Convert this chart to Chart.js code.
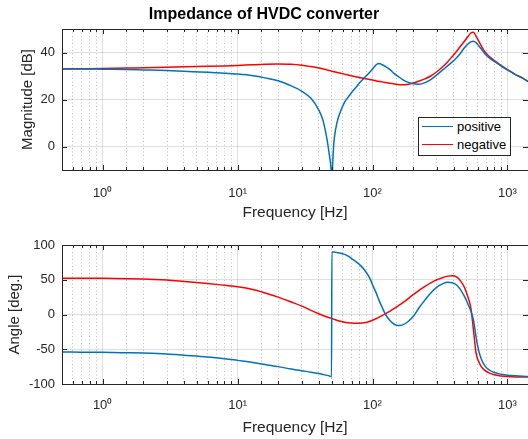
<!DOCTYPE html>
<html>
<head>
<meta charset="utf-8">
<title>Impedance of HVDC converter</title>
<script src="https://cdn.jsdelivr.net/npm/chart.js@4.4.1/dist/chart.umd.min.js"></script>
<style>
  body { margin: 0; background: #fff; }
  .panel { position: relative; width: 528px; }
  canvas { display: block; }
  #legend { position: absolute; left: 418px; top: 117px; width: 91px; height: 37px;
            border: 1px solid #262626; background: #fff;
            font: 13px "Liberation Sans", Arial, sans-serif; color: #000; }
  #legend .row { position: relative; height: 18px; line-height: 18px; }
  #legend .swatch { position: absolute; left: 3px; top: 8px; width: 31px; height: 0; border-top: 1.5px solid; }
  #legend .txt { position: absolute; left: 38px; top: 0; }
</style>
</head>
<body>
<div class="panel"><canvas id="mag" width="528" height="220"></canvas><div id="legend"></div></div>
<div class="panel"><canvas id="ang" width="528" height="219"></canvas></div>
<script>
// frequency points [Hz]
const freq = [0.5, 0.7, 1, 1.5, 2, 3, 4, 6, 8, 10,
  13, 16, 20, 25, 30, 35, 40, 43, 46, 48,
  49, 49.7, 50, 50.3, 51, 52, 55, 58, 62, 66,
  70, 75, 80, 87, 95, 102, 107, 112, 118, 125, 135,
  145, 155, 165, 180, 200, 220, 245, 270, 300, 330,
  360, 390, 420, 450, 480, 510, 535, 560, 585, 610,
  640, 680, 730, 800, 900, 1000, 1150, 1300, 1420];

// magnitude [dB]
const magPositive = [33.0, 33.0, 32.9, 32.8, 32.6, 32.3, 32.0, 31.6, 31.2, 30.8,
  30.1, 29.2, 28.0, 25.8, 23.5, 20.5, 15.5, 11.0, 3.0, -4.0,
  -8.0, -14, -25, -14, -4.0, 3.0, 11.0, 15.0, 18.8, 21.0,
  23.0, 25.0, 27.0, 29.2, 31.5, 33.5, 34.9, 35.3, 34.8, 34.0, 32.7,
  31.0, 29.8, 28.7, 27.5, 26.7, 26.5, 27.2, 28.5, 30.5, 32.5,
  34.3, 36.0, 37.8, 39.8, 42.0, 43.6, 44.5, 44.8, 44.2, 43.0,
  41.5, 39.5, 37.8, 36.2, 34.2, 32.6, 30.5, 29.0, 27.7];
const magNegative = [33.0, 33.1, 33.2, 33.4, 33.5, 33.7, 33.9, 34.1, 34.3, 34.5,
  34.8, 35.0, 35.1, 35.0, 34.6, 34.0, 33.4, 33.0, 32.6, 32.3,
  32.2, 32.1, 32.0, 32.0, 31.9, 31.8, 31.5, 31.2, 30.8, 30.4,
  30.1, 29.7, 29.4, 28.9, 28.5, 28.2, 27.9, 27.7, 27.5, 27.2, 26.9,
  26.6, 26.4, 26.3, 26.4, 27.0, 27.8, 28.8, 30.0, 31.8, 33.8,
  36.0, 38.3, 40.5, 42.8, 44.8, 46.8, 48.3, 48.6, 47.0, 45.0,
  42.8, 40.3, 38.4, 36.6, 34.4, 32.7, 30.6, 29.1, 27.7];

// angle [deg.]
const angPositive = [-54, -54.2, -54.4, -55, -55.5, -56.8, -58.5, -61, -63.5, -66,
  -69, -72, -75, -78.5, -81, -83, -85, -86.3, -87.6, -88.6,
  -89.2, -89.8, 90, 90, 90, 90, 89, 88, 86.5, 84,
  80.5, 76.5, 72, 64.5, 53, 39, 30, 20, 10, 0, -9,
  -14, -16, -15.3, -11.5, -3, 9, 21, 31, 39.5, 44,
  46.3, 45.8, 42.5, 35.5, 26, 15, 5, -8, -32, -51,
  -64, -74, -79.5, -83.5, -86, -87.3, -88.3, -88.9, -89.2];
const angNegative = [52.3, 52.2, 52, 51.6, 51.2, 49.5, 47.5, 44.5, 42, 40,
  36, 31, 25, 18, 12, 6, 1, -1.5, -3.5, -4.7,
  -5.2, -5.6, -5.8, -6, -6.4, -7, -8.6, -9.8, -11, -11.8,
  -12.4, -12.7, -12.6, -11.8, -10, -7.5, -5.8, -3.8, -1.5, 1, 5,
  8.7, 12.5, 16, 21.5, 28.5, 34.5, 40.5, 45.5, 50, 53,
  55.2, 55.8, 54, 48, 39, 25, 10, -22, -55, -67,
  -75, -80.5, -84, -86.8, -88.5, -89.3, -89.8, -90, -90];

const magTicks = [0, 20, 40];
const angTicks = [-100, -50, 0, 50, 100];
const decadeValues = [1, 10, 100, 1000];
const decadeLabels = ['10\u2070', '10\u00b9', '10\u00b2', '10\u00b3'];
const seriesNames = ['positive', 'negative'];
const seriesColors = ['#0072BD', '#FF0000'];

Chart.defaults.font.family = '"Liberation Sans", Arial, sans-serif';
Chart.defaults.color = '#262626';

const isDecade = v => Math.abs(Math.log10(v) - Math.round(Math.log10(v))) < 1e-9;

// box round the plot with inward tick marks, like the original
const frame = {
  id: 'frame',
  afterDatasetsDraw(chart) {
    const {ctx, chartArea: a, scales: {x, y}} = chart;
    ctx.save();
    ctx.strokeStyle = '#262626';
    ctx.lineWidth = 1;
    ctx.beginPath();
    x.ticks.forEach(t => {
      const px = Math.round(x.getPixelForValue(t.value)) + 0.5;
      const len = isDecade(t.value) ? 5 : 3;
      ctx.moveTo(px, a.bottom); ctx.lineTo(px, a.bottom - len);
      ctx.moveTo(px, a.top); ctx.lineTo(px, a.top + len);
    });
    y.ticks.forEach(t => {
      const py = Math.round(y.getPixelForValue(t.value)) + 0.5;
      ctx.moveTo(a.left, py); ctx.lineTo(a.left + 5, py);
      ctx.moveTo(a.right, py); ctx.lineTo(a.right - 5, py);
    });
    ctx.stroke();
    ctx.strokeRect(a.left + 0.5, a.top + 0.5, a.right - a.left, a.bottom - a.top);
    ctx.restore();
  }
};

function makeChart(id, pos, neg, o) {
  return new Chart(document.getElementById(id), {
    type: 'line',
    data: {
      datasets: [pos, neg].map((arr, k) => ({
        label: seriesNames[k],
        data: freq.map((f, i) => ({x: f, y: arr[i]})),
        borderColor: seriesColors[k],
        borderWidth: 1.5,
        pointRadius: 0,
        cubicInterpolationMode: 'monotone'
      }))
    },
    options: {
      responsive: false,
      animation: false,
      layout: {padding: {top: o.padTop, right: 0, left: 0, bottom: 0}},
      plugins: {
        legend: {display: false},
        tooltip: {enabled: false},
        title: {
          display: !!o.title,
          text: o.title,
          color: '#000',
          font: {size: 16, weight: 'bold', lineHeight: 1},
          padding: {top: 7, bottom: 6}
        }
      },
      scales: {
        x: {
          type: 'logarithmic',
          min: 0.5,
          max: 1420,
          afterFit: s => { s.height = o.xHeight; s.paddingLeft = 0; s.paddingRight = 0; },
          ticks: {
            autoSkip: false,
            maxRotation: 0,
            padding: o.xTickPad,
            font: {size: 13},
            callback: v => {
              const k = decadeValues.findIndex(d => Math.abs(d - v) < 1e-9);
              return k < 0 ? '' : decadeLabels[k];
            }
          },
          grid: {
            drawTicks: false,
            color: c => isDecade(c.tick.value) ? 'rgba(38,38,38,0.15)' : 'rgba(38,38,38,0.3)'
          },
          border: {display: false, dash: c => (c.tick && !isDecade(c.tick.value)) ? [1, 2.5] : []},
          title: {
            display: true, text: 'Frequency [Hz]',
            font: {size: 15.5, lineHeight: 1}, padding: {top: 0, bottom: o.xTitlePad}
          }
        },
        y: {
          min: o.yMin,
          max: o.yMax,
          afterBuildTicks: s => { s.ticks = o.yTicks.map(v => ({value: v})); },
          afterFit: s => { s.width = 62; s.paddingTop = 0; s.paddingBottom = 0; },
          ticks: {padding: 7, font: {size: 13}},
          grid: {drawTicks: false, color: 'rgba(38,38,38,0.15)'},
          border: {display: false},
          title: {
            display: true, text: o.yTitle,
            font: {size: 15, lineHeight: 1}, padding: {top: o.yTitlePad, bottom: 0}
          }
        }
      }
    },
    plugins: [frame]
  });
}

const magChart = makeChart('mag', magPositive, magNegative, {
  title: 'Impedance of HVDC converter', padTop: 0,
  xHeight: 50, xTickPad: 16, xTitlePad: 0,
  yMin: -10, yMax: 50, yTicks: magTicks, yTitle: 'Magnitude [dB]', yTitlePad: 20
});

makeChart('ang', angPositive, angNegative, {
  title: '', padTop: 25,
  xHeight: 55, xTickPad: 14, xTitlePad: 4,
  yMin: -100, yMax: 100, yTicks: angTicks, yTitle: 'Angle [deg.]', yTitlePad: 7.5
});

// legend box inside the magnitude plot
const legend = document.getElementById('legend');
magChart.data.datasets.forEach(ds => {
  const row = document.createElement('div');
  row.className = 'row';
  row.innerHTML = `<span class="swatch" style="border-color:${ds.borderColor}"></span><span class="txt">${ds.label}</span>`;
  legend.appendChild(row);
});
</script>
</body>
</html>
